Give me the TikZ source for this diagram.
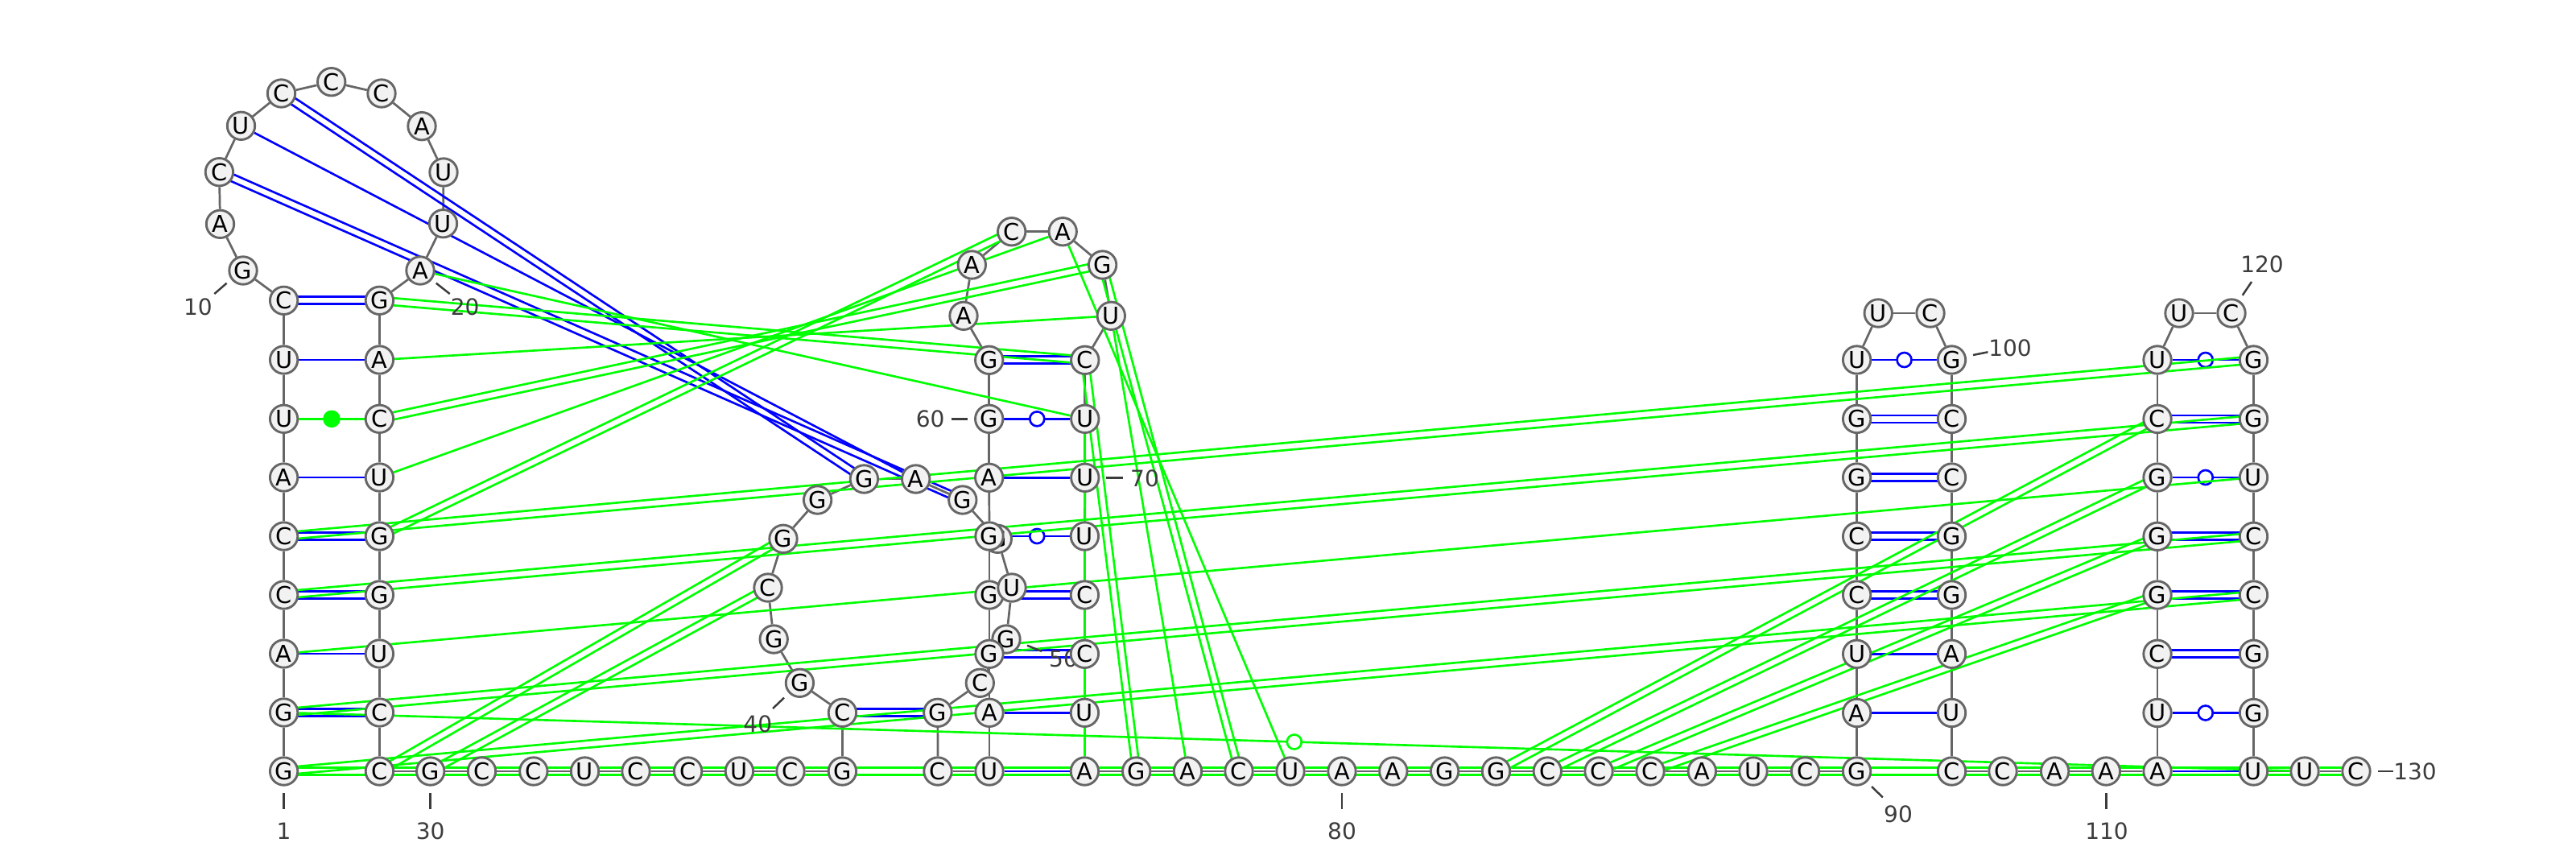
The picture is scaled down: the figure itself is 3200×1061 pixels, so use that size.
\documentclass[tikz,border=0pt]{standalone}
\usepackage{fontspec}
\setmainfont{DejaVu Sans}
\usetikzlibrary{calc, backgrounds}

\definecolor{rimgray}{HTML}{666666}
\definecolor{nodefill}{HTML}{F2F2F2}
\definecolor{numgray}{HTML}{3C3C3C}
\definecolor{bondblue}{RGB}{0,0,255}
\definecolor{bondgreen}{RGB}{0,255,0}

\tikzset{
    nucl/.style={circle, draw=rimgray, fill=nodefill, line width=0.72pt, inner sep=0pt,
        minimum size=8.6pt, font=\fontsize{7.2}{8}\selectfont},
    backbone/.style={draw=rimgray, line width=0.68pt},
    blueline/.style={draw=bondblue, line width=0.66pt},
    greenline/.style={draw=bondgreen, line width=0.66pt},
    twolines/.style={to path={
        ($(\tikztostart)!1.125pt!90:(\tikztotarget)$) -- ($(\tikztotarget)!1.125pt!-90:(\tikztostart)$)
        ($(\tikztostart)!1.125pt!-90:(\tikztotarget)$) -- ($(\tikztotarget)!1.125pt!90:(\tikztostart)$)}},
    ringblue/.style={circle, draw=bondblue, fill=white, line width=0.66pt, inner sep=0pt, minimum size=4.5pt},
    ringgreen/.style={circle, draw=bondgreen, fill=white, line width=0.66pt, inner sep=0pt, minimum size=4.5pt},
    dotgreen/.style={circle, fill=bondgreen, inner sep=0pt, minimum size=5.4pt},
    numlabel/.style={text=numgray, inner sep=0pt, font=\fontsize{7}{8}\selectfont},
    numtick/.style={draw=numgray, line width=0.62pt}
}

\begin{document}
\begin{tikzpicture}[x=0.25pt, y=-0.25pt]
\useasboundingbox (0,0) rectangle (3200,1061);

% position numbers, under the nucleotides
\foreach \num/\tx/\ty/\ax/\ay/\bx/\by in {
    1/352.6/1032/352.6/985/352.6/1005, 10/246/381.7/281.6/351.7/266.3/365,
    20/577.6/381.7/541.8/351.7/558.7/365, 30/534.7/1032/534.7/985/534.7/1005,
    40/941.3/899.3/974/866.7/960/880, 50/1321/818/1276/801.7/1294/809,
    60/1155.6/520.7/1202/520.3/1182/520.3, 70/1422/594/1374/593.3/1395/593.3,
    80/1667/1032/1667/985/1667/1005, 90/2358/1011/2325/977/2338.8/990.4,
    100/2497/432/2451/441/2469.4/437.3, 110/2617/1032/2616.3/985/2616.3/1005,
    120/2810/328.6/2785.7/366.8/2797/350, 130/3000/958/2954/958/2973/958}{
    \node[numlabel] (lab\num) at (\tx,\ty) {\num};
    \coordinate (ta\num) at (\ax,\ay);
    \coordinate (tb\num) at (\bx,\by);
    \draw[numtick] (ta\num) -- (tb\num);
}

% nucleotides; U49 comes after G57 since it lies on top of it
\foreach \i/\x/\y/\nt in {
    1/352.6/958/G, 2/352.6/885/G, 3/352.6/812/A, 4/352.6/739/C, 5/352.6/666/C, 6/352.6/593/A,
    7/352.6/520.3/U, 8/352.6/447/U, 9/352.6/373.3/C, 10/302/336/G, 11/273.5/278.3/A,
    12/272.4/213.7/C, 13/299.5/156.3/U, 14/349.5/116/C, 15/411.7/101.7/C, 16/474/116/C,
    17/524/156.7/A, 18/551/214/U, 19/550.5/277.7/U, 20/522/336/A, 21/471.4/373.3/G,
    22/471.4/447/A, 23/471.4/520.3/C, 24/471.4/593/U, 25/471.4/666/G, 26/471.4/739/G,
    27/471.4/812/U, 28/471.4/885/C, 29/471.4/958/C, 30/534.7/958/G, 31/598.5/958/C,
    32/662.8/958/C, 33/726.5/958/U, 34/790/958/C, 35/854.6/958/C, 36/918.4/958/U,
    37/982/958/C, 38/1046.4/958/G, 39/1046.4/885.3/C, 40/993.4/848.3/G, 41/961.2/794/G,
    42/954/730/C, 43/973/669.3/G, 44/1015.6/621/G, 45/1073.4/595/G, 46/1137.7/595/A,
    47/1195.8/621/G, 48/1239.3/669.3/G, 50/1250/794/G, 51/1217.3/848.3/C, 52/1164.8/885.3/G,
    53/1165/958/C, 54/1229/958/U, 55/1229/885.3/A, 56/1229/812.3/G, 57/1229/739/G,
    49/1257/730/U, 58/1229/666/G, 59/1228.7/593.3/A, 60/1228.7/520.3/G, 61/1228.7/447.3/G,
    62/1197/392.3/A, 63/1207.3/329/A, 64/1256.7/287.7/C, 65/1320.2/287.7/A, 66/1369.6/329/G,
    67/1380.3/392.3/U, 68/1347.8/447.3/C, 69/1347.8/520.3/U, 70/1347.8/593.3/U,
    71/1347.4/666/U, 72/1347.4/739/C, 73/1347.4/812.3/C, 74/1347.4/885.3/U, 75/1347.4/958/A,
    76/1411.7/958/G, 77/1475.5/958/A, 78/1539/958/C, 79/1603/958/U, 80/1667/958/A,
    81/1730.8/958/A, 82/1794.6/958/G, 83/1858.5/958/G, 84/1922.3/958/C, 85/1986/958/C,
    86/2050/958/C, 87/2114.3/958/A, 88/2178/958/U, 89/2242.5/958/C, 90/2306.6/958/G,
    91/2306.6/885.5/A, 92/2306.6/812.3/U, 93/2306.6/739/C, 94/2306.6/666.3/C, 95/2306.6/593/G,
    96/2306.6/520.4/G, 97/2306.6/447/U, 98/2333.2/389/U, 99/2398/389/C, 100/2424.5/447/G,
    101/2424.5/520.4/C, 102/2424.5/593/C, 103/2424.5/666.3/G, 104/2424.5/739/G,
    105/2424.5/812.3/A, 106/2424.5/885.5/U, 107/2424.5/958/C, 108/2488/958/C, 109/2552.6/958/A,
    110/2616.3/958/A, 111/2680/958/A, 112/2680/885.5/U, 113/2680/812.3/C, 114/2680/739/G,
    115/2680/666.3/G, 116/2680/593/G, 117/2680/520.4/C, 118/2680/447/U, 119/2707/389/U,
    120/2772/389/C, 121/2799.5/447/G, 122/2799.5/520.4/G, 123/2799.5/593/U, 124/2799.5/666.3/C,
    125/2799.5/739/C, 126/2799.5/812.3/G, 127/2799.5/885.5/G, 128/2799.5/958/U, 129/2863/958/U,
    130/2927/958/C}{
    \node[nucl] (n\i) at (\x,\y) {\nt};
}

\begin{pgfonlayer}{background}
% chain
\foreach \a [count=\b from 2] in {1,...,129}{
    \draw[backbone] (n\a) -- (n\b);
}

% first structure
\foreach \a/\b in {2/28, 4/26, 5/25, 9/21, 12/47, 14/45, 39/52, 56/73, 57/72, 61/68,
    93/104, 94/103, 95/102, 96/101, 113/126, 114/125, 115/124, 117/122}{
    \draw[blueline, twolines] (n\a) to (n\b);
}
\foreach \a/\b in {3/27, 6/24, 8/22, 13/46, 54/75, 55/74, 59/70, 91/106, 92/105, 111/128}{
    \draw[blueline] (n\a) -- (n\b);
}
\foreach \a/\b in {58/71, 60/69, 97/100, 112/127, 116/123, 118/121}{
    \draw[blueline] (n\a) -- node[ringblue] (ring\a) {} (n\b);
}

% second structure
\foreach \a/\b in {1/130, 1/125, 2/124, 4/122, 5/121, 21/68, 23/66, 25/64, 29/43, 30/42,
    66/78, 68/76, 83/117, 84/116, 85/115, 86/114}{
    \draw[greenline, twolines] (n\a) to (n\b);
}
\foreach \a/\b in {3/123, 20/69, 22/67, 24/65, 65/79, 67/77, 69/75}{
    \draw[greenline] (n\a) -- (n\b);
}
\draw[greenline] (n2) -- node[ringgreen] (ring2) {} (n129);
\draw[greenline] (n7) -- node[dotgreen] (dot7) {} (n23);
\end{pgfonlayer}

\end{tikzpicture}
\end{document}
